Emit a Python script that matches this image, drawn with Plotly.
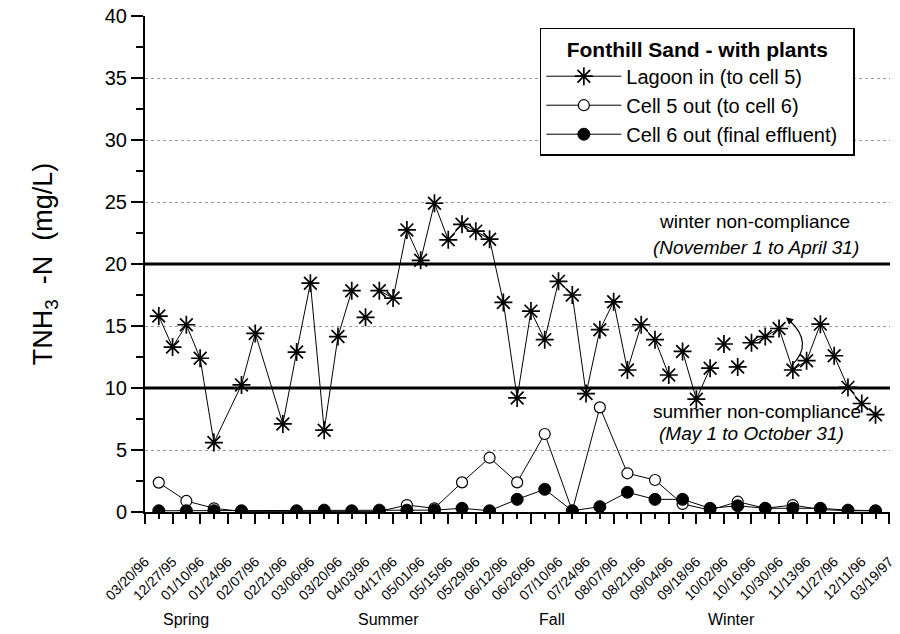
import plotly.graph_objects as go

# ---------------- data ----------------
date_labels = ["03/20/96", "12/27/95", "01/10/96", "01/24/96", "02/07/96", "02/21/96",
               "03/06/96", "03/20/96", "04/03/96", "04/17/96", "05/01/96", "05/15/96",
               "05/29/96", "06/12/96", "06/26/96", "07/10/96", "07/24/96", "08/07/96",
               "08/21/96", "09/04/96", "09/18/96", "10/02/96", "10/16/96", "10/30/96",
               "11/13/96", "11/27/96", "12/11/96", "03/19/97"]

# sampling slots 0..52 (None = no sample)
lagoon_in = [15.8, 13.3, 15.1, 12.4, 5.6, None, 10.25, 14.4, None, 7.1,
             12.9, 18.45, 6.6, 14.15, 17.85, 15.7, 17.85, 17.25, 22.75, 20.3,
             24.9, 21.95, 23.2, 22.65, 22.0, 16.9, 9.2, 16.2, 13.9, 18.6,
             17.5, 9.55, 14.7, 16.95, 11.45, 15.1, 13.9, 11.05, 12.95, 9.1,
             11.6, 13.55, 11.7, 13.65, 14.15, 14.8, 11.45, 12.2, 15.15, 12.6,
             10.05, 8.75, 7.85]
cell5_out = [2.37, None, 0.89, None, 0.3, None, 0.05, None, None, None,
             0.05, None, 0.05, None, 0.05, None, 0.05, None, 0.56, None,
             0.3, None, 2.39, None, 4.38, None, 2.39, None, 6.29, None,
             0.1, None, 8.44, None, 3.12, None, 2.58, None, 0.65, None,
             0.15, None, 0.83, None, 0.3, None, 0.56, None, 0.2, None,
             0.1, None, 0.1]
cell6_out = [0.1, None, 0.1, None, 0.1, None, 0.1, None, None, None,
             0.1, None, 0.15, None, 0.1, None, 0.15, None, 0.15, None,
             0.15, None, 0.3, None, 0.1, None, 1.02, None, 1.83, None,
             0.1, None, 0.43, None, 1.59, None, 1.02, None, 1.02, None,
             0.3, None, 0.5, None, 0.3, None, 0.3, None, 0.3, None,
             0.15, None, 0.1]
lagoon_breaks = [14, 15, 37, 40, 41, 42]   # no connecting line after these slots
limits = [10, 20]
seasons = ["Spring", "Summer", "Fall", "Winter"]

# ---------------- helpers ----------------
FONT = "Liberation Sans, Arial, Helvetica, sans-serif"
label_slots = [2 * k - 1 for k in range(len(date_labels))]
NB = "\u00a0"


def series_xy(vals, breaks=()):
    xs, ys = [], []
    for i, v in enumerate(vals):
        if v is None:
            continue
        xs.append(i)
        ys.append(v)
        if i in breaks:
            xs.append(None)
            ys.append(None)
    return xs, ys


fig = go.Figure()

lx, ly = series_xy(lagoon_in, lagoon_breaks)
fig.add_trace(go.Scatter(
    x=lx, y=ly, mode="lines+markers", name="Lagoon in (to cell 5)",
    connectgaps=False,
    line=dict(color="black", width=1),
    marker=dict(symbol="asterisk", size=15, color="black",
                line=dict(color="black", width=1.7)),
))
c5x, c5y = series_xy(cell5_out)
fig.add_trace(go.Scatter(
    x=c5x, y=c5y, mode="lines+markers", name="Cell 5 out (to cell 6)",
    line=dict(color="black", width=1),
    marker=dict(symbol="circle", size=11, color="white",
                line=dict(color="black", width=1.2)),
))
c6x, c6y = series_xy(cell6_out)
fig.add_trace(go.Scatter(
    x=c6x, y=c6y, mode="lines+markers", name="Cell 6 out (final effluent)",
    line=dict(color="black", width=1),
    marker=dict(symbol="circle", size=12, color="black",
                line=dict(color="black", width=1)),
))

shapes = []
for lv in limits:
    shapes.append(dict(type="line", xref="paper", yref="y", x0=0, x1=1, y0=lv, y1=lv,
                       line=dict(color="black", width=3)))
# curved arrow near the 10/30/96 - 11/13/96 samples
shapes.append(dict(type="path", xref="x", yref="y",
                   path="M 45.9,11.8 Q 47.6,13.6 45.7,15.5",
                   line=dict(color="black", width=1.2)))

annotations = [
    dict(x=43.2, y=23.4, xref="x", yref="y", text="winter non-compliance",
         showarrow=False, font=dict(family=FONT, size=19, color="black")),
    dict(x=43.3, y=21.3, xref="x", yref="y", text="<i>(November 1 to April 31)</i>",
         showarrow=False, font=dict(family=FONT, size=19, color="black")),
    dict(x=43.4, y=8.1, xref="x", yref="y", text="summer non-compliance",
         showarrow=False, font=dict(family=FONT, size=19, color="black")),
    dict(x=43.0, y=6.3, xref="x", yref="y", text="<i>(May 1 to October 31)</i>",
         showarrow=False, font=dict(family=FONT, size=19, color="black")),
    dict(x=45.5, y=15.7, xref="x", yref="y", ax=7, ay=6, text="", showarrow=True,
         arrowhead=2, arrowsize=1.2, arrowwidth=1.2, arrowcolor="black"),
]
season_x = [2.0, 16.7, 28.5, 41.55]
for s, sx in zip(seasons, season_x):
    annotations.append(dict(x=sx, y=-0.2177, xref="x", yref="paper", text=s,
                            showarrow=False, yanchor="middle",
                            font=dict(family=FONT, size=16, color="black")))

fig.update_layout(
    width=900, height=634,
    margin=dict(l=145, r=10, t=16, b=122, autoexpand=False),
    paper_bgcolor="white", plot_bgcolor="white",
    font=dict(family=FONT, color="black"),
    shapes=shapes, annotations=annotations,
    showlegend=True,
    legend=dict(
        x=0.53, y=0.976, xanchor="left", yanchor="top",
        bgcolor="white", bordercolor="black", borderwidth=1.5,
        font=dict(family=FONT, size=20, color="black"),
        title=dict(text=NB * 4 + "<b>Fonthill Sand - with plants</b>" + NB * 4,
                   side="top center",
                   font=dict(family=FONT, size=21, color="black")),
        itemwidth=75,
        tracegroupgap=0,
    ),
)

fig.update_xaxes(
    automargin=False,
    range=[-1, 53.05], tickmode="array", tickvals=label_slots, ticktext=date_labels,
    tickangle=-45, tickfont=dict(family=FONT, size=14, color="black"),
    ticks="outside", ticklen=10, tickwidth=1.5, tickcolor="black",
    ticklabelstandoff=24,
    minor=dict(tickmode="linear", tick0=0, dtick=2, ticks="outside", ticklen=5,
               tickwidth=1.5, tickcolor="black", showgrid=False),
    showline=True, linecolor="black", linewidth=2, showgrid=False, zeroline=False,
)
fig.update_yaxes(
    automargin=False,
    range=[0, 40], tickmode="linear", tick0=0, dtick=5,
    tickfont=dict(family=FONT, size=20, color="black"),
    ticklabeloverflow="allow",
    ticks="outside", ticklen=12, tickwidth=1.5, tickcolor="black",
    minor=dict(dtick=2.5, ticks="outside", ticklen=7, tickwidth=1.5,
               tickcolor="black", showgrid=False),
    showline=True, linecolor="black", linewidth=2,
    showgrid=True, gridcolor="#9a9a9a", gridwidth=1, griddash="dot", zeroline=False,
    title=dict(text="TNH<sub>3</sub>" + NB * 2 + "-N" + NB * 2 + "(mg/L)" + NB * 3,
               font=dict(family=FONT, size=27, color="black"), standoff=44),
)

# remove the default 8px page margin so the 900x634 figure fills the window
fig.write_html("out.html",
               config={"displayModeBar": False},
               post_script="document.body.style.margin='0';document.body.style.overflow='hidden';")
